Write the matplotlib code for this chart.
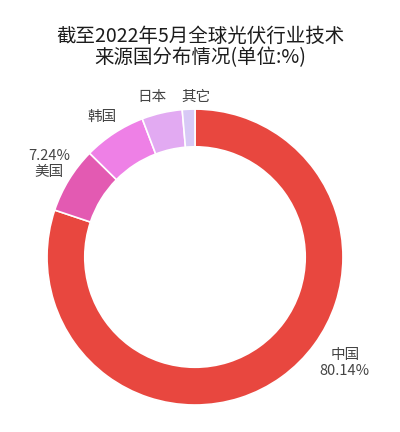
import numpy as np
import matplotlib
matplotlib.use("Agg")
import matplotlib.pyplot as plt

plt.rcParams['font.family'] = ['Noto Sans CJK SC', 'DejaVu Sans']

categories = ['中国', '美国', '韩国', '日本', '其它']
values = [80.14, 7.24, 6.82, 4.42, 1.38]
colors = ['#E8473F', '#E35AB2', '#EE80E6', '#E2AAF2', '#D8C9F6']
title = '截至2022年5月全球光伏行业技术\n来源国分布情况(单位:%)'

fig = plt.figure(figsize=(4.0, 4.32), dpi=100)
ax = fig.add_axes([0.1175, 0.0625, 0.74, 0.685])
wedges, _ = ax.pie(values, colors=colors, startangle=90, counterclock=False,
                   radius=1.0,
                   wedgeprops=dict(width=0.255, edgecolor='white', linewidth=1.2))
ax.set_xlim(-1, 1)
ax.set_ylim(-1, 1)
ax.set_aspect('equal')
ax.axis('off')

# label placement (radius factor, angle in degrees clockwise from top)
label_r = {'中国': 1.24, '美国': 1.17, '韩国': 1.14, '日本': 1.12, '其它': 1.08}
label_ang = {'中国': 125.2, '美国': 302.5, '韩国': 326.4, '日本': 345.0, '其它': 0.5}
for cat, v in zip(categories, values):
    ang = label_ang[cat]
    th = np.deg2rad(90 - ang)
    r = label_r[cat]
    x, y = r * np.cos(th), r * np.sin(th)
    if cat == '中国':
        txt = f'{cat}\n{v:.2f}%'
    elif cat == '美国':
        txt = f'{v:.2f}%\n{cat}'
    else:
        txt = cat
    ax.text(x, y, txt, ha='center', va='center', fontsize=10.5,
            color='#444444', linespacing=1.2)

fig.text(0.5, 0.891, title, ha='center', va='center', fontsize=14,
         color='#1c1c1c', fontweight='medium', linespacing=1.05)

fig.savefig('out.png', dpi=100, facecolor='white')
